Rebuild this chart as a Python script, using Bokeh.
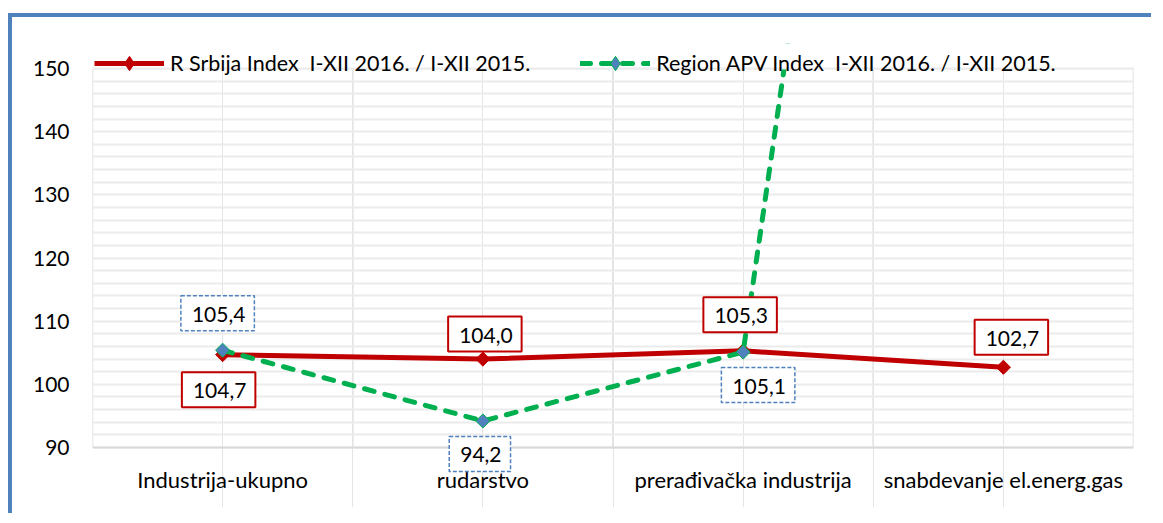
import numpy as np
from bokeh.plotting import figure
from bokeh.models import (Range1d, FixedTicker, SingleIntervalTicker, Legend, LegendItem,
                          Label, Grid)
from bokeh.core.properties import value
from bokeh.embed import file_html
from bokeh.resources import INLINE

# ---- data ----
categories = ["Industrija-ukupno", "rudarstvo", "prerađivačka industrija", "snabdevanje el.energ.gas"]
srbija = [104.7, 104.0, 105.3, 102.7]
apv = [105.4, 94.2, 105.1, 390.0]
apv_labeled = 3  # last APV value is off the scale, not labeled
y_ticks = [90, 100, 110, 120, 130, 140, 150]
name_srbija = "R Srbija Index  I-XII 2016. / I-XII 2015."
name_apv = "Region APV Index  I-XII 2016. / I-XII 2015."

# ---- style ----
FONT = "Lato"
FS = "21px"
FS_TXT = "22px"
FS_LEG = "21.5px"
RED = "#c00000"
GREEN = "#00b050"
BLUE = "#4f81bd"
GRID = "#ebebeb"
VGRID = "#d9d9d9"

# layout (px, canvas coordinates)
W, H = 1143, 500
ML, MR, MT, MB = 80, 22, 26, 10
BAND_TOP, BAND_H = 51, 379   # where the 90..150 band sits inside the canvas
ppu = BAND_H / (y_ticks[-1] - y_ticks[0])
frame_bottom = H - MB
y_hi = y_ticks[-1] + (BAND_TOP - MT) / ppu
y_lo = y_ticks[0] - (frame_bottom - (BAND_TOP + BAND_H)) / ppu

# label offsets in screen px (dx, dy up)
red_off = [(-4, -35), (2, 25), (-3, 36), (8, 30)]
green_off = [(-5, 37), (-3, -33), (15, -33)]
cat_label_dy = 32

xs = [i + 0.5 for i in range(len(categories))]
bounds = list(range(len(categories) + 1))

p = figure(width=W, height=H, output_backend="svg", toolbar_location=None,
           x_range=Range1d(0, len(categories)), y_range=Range1d(y_lo, y_hi),
           x_axis_location=None,
           min_border_left=ML, min_border_right=MR, min_border_top=MT, min_border_bottom=MB)
p.margin = (13, 0, 0, 8)
p.styles = {"border-left": f"4px solid {BLUE}", "border-top": f"4px solid {BLUE}"}
p.outline_line_color = None
p.background_fill_color = "white"
p.border_fill_color = "white"

# grids
p.ygrid.visible = False
hgrid = Grid(dimension=1, ticker=SingleIntervalTicker(interval=2), bounds=(y_ticks[0], y_ticks[-1]),
             grid_line_color=GRID, grid_line_width=2)
base = Grid(dimension=1, ticker=FixedTicker(ticks=[y_ticks[0]]),
            grid_line_color=VGRID, grid_line_width=2)
top = Grid(dimension=1, ticker=FixedTicker(ticks=[y_ticks[-1]]),
           grid_line_color=GRID, grid_line_width=2, level="guide")
p.add_layout(hgrid, "center")
p.add_layout(base, "center")
p.add_layout(top, "center")
p.segment(x0=bounds, y0=[y_ticks[0]] * len(bounds), x1=bounds, y1=[y_ticks[-1]] * len(bounds),
          line_color=VGRID, line_width=1.5, level="underlay")

# y axis
p.yaxis.ticker = FixedTicker(ticks=y_ticks)
p.yaxis.axis_line_color = None
p.yaxis.major_tick_line_color = None
p.yaxis.minor_tick_line_color = None
p.yaxis.major_tick_out = 0
p.yaxis.major_tick_in = 0
p.yaxis.major_label_standoff = 23
p.yaxis.major_label_text_font = FONT
p.yaxis.major_label_text_font_size = FS
p.yaxis.major_label_text_color = "black"

# category labels under the band
p.text(x=xs, y=[y_ticks[0]] * len(xs), text=categories, y_offset=cat_label_dy,
       text_align="center", text_baseline="middle", text_font=value(FONT),
       text_font_size=FS_TXT, text_color="black")

# series (the diamond "key" glyphs sit under the rotated-square markers and feed the legend)
r_line = p.line(xs, srbija, line_color=RED, line_width=5)
r_key = p.scatter(xs, srbija, marker="diamond", size=10, fill_color=RED, line_color=RED, line_width=1)
r_mark = p.scatter(xs, srbija, marker="square", size=10, angle=np.pi / 4,
                   fill_color=RED, line_color=RED, line_width=1)
g_line = p.line(xs, apv, line_color=GREEN, line_width=5, line_dash="10 11", line_cap="round")
g_key = p.scatter(xs, apv, marker="diamond", size=10, fill_color=BLUE, line_color=GREEN, line_width=1)
g_mark = p.scatter(xs, apv, marker="square", size=10, angle=np.pi / 4,
                   fill_color=BLUE, line_color=GREEN, line_width=1)
# plot-area clip above the top of the value axis
p.quad(left=[bounds[0]], right=[bounds[-1]], bottom=[y_ticks[-1]], top=[2 * y_hi - y_ticks[-1]],
       fill_color="white", line_color=None)

# data labels
def fmt(v):
    return f"{v:.1f}".replace(".", ",")

PAD = (11, 9, 11, 9)
for x, v, (dx, dy) in zip(xs, srbija, red_off):
    p.add_layout(Label(x=x, y=v, x_offset=dx, y_offset=dy, text=fmt(v),
                       text_align="center", text_baseline="middle",
                       text_font=FONT, text_font_size=FS, text_color="black",
                       background_fill_color="white", border_line_color=RED,
                       border_line_width=2, padding=PAD))
for x, v, (dx, dy) in zip(xs[:apv_labeled], apv[:apv_labeled], green_off):
    p.add_layout(Label(x=x, y=v, x_offset=dx, y_offset=dy, text=fmt(v),
                       text_align="center", text_baseline="middle",
                       text_font=FONT, text_font_size=FS, text_color="black",
                       background_fill_color="white", border_line_color=BLUE,
                       border_line_width=1.5, border_line_dash="4 2", padding=PAD))

legend = Legend(items=[LegendItem(label=name_srbija, renderers=[r_line, r_key]),
                       LegendItem(label=name_apv, renderers=[g_line, g_key])],
                orientation="horizontal", location="top_left", padding=0, margin=2,
                spacing=50, glyph_width=70, glyph_height=36, label_standoff=6,
                label_text_font=FONT, label_text_font_size=FS_LEG, label_text_color="black",
                background_fill_alpha=0, border_line_color=None)
p.add_layout(legend, "center")

open("out.html", "w").write(file_html(p, INLINE))
